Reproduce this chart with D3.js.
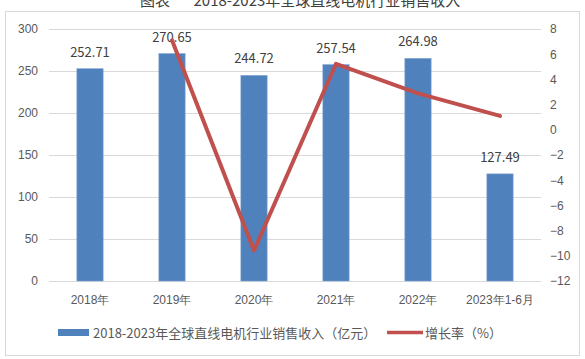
<!DOCTYPE html>
<html>
<head>
<meta charset="utf-8">
<script src="https://cdn.jsdelivr.net/npm/d3@7"></script>
<style>
  body { margin: 0; background: #fff; }
  svg { display: block; font-family: "Noto Sans CJK SC", "Noto Sans", sans-serif; }
</style>
</head>
<body>
<svg id="chart" width="585" height="359"></svg>
<script>
const categories = ["2018年", "2019年", "2020年", "2021年", "2022年", "2023年1-6月"]
const revenue = [252.71, 270.65, 244.72, 257.54, 264.98, 127.49]
// growth rate (%), no value for the first year
const growth = [null, 7.1, -9.58, 5.24, 2.89, 1.1]
const leftTicks = [0, 50, 100, 150, 200, 250, 300]
const rightTicks = [-12, -10, -8, -6, -4, -2, 0, 2, 4, 6, 8]
const title = "图表       2018-2023年全球直线电机行业销售收入"
const barName = "2018-2023年全球直线电机行业销售收入（亿元）"
const lineName = "增长率（%）"

const barColor = "#4F81BD"
const lineColor = "#C0504D"
const textColor = "#595959"

const svg = d3.select("#chart")
const plot = {left: 49, right: 541, top: 29, bottom: 281}

// frame
svg.append("rect")
  .attr("x", 5.5).attr("y", 11.5)
  .attr("width", 574).attr("height", 344)
  .attr("fill", "none").attr("stroke", "#D9D9D9")

// title, partly cut off at the top like in the source image
svg.append("text")
  .attr("x", 140).attr("y", 6)
  .attr("font-size", 15).attr("fill", "#404040")
  .style("white-space", "pre")
  .text(title)

const x = d3.scaleBand()
  .domain(categories)
  .range([plot.left, plot.right])
  .paddingInner(0.68)
  .paddingOuter(0.34)

const y = d3.scaleLinear().domain([0, 300]).range([plot.bottom, plot.top])
const y2 = d3.scaleLinear().domain([-12, 8]).range([plot.bottom, plot.top])

// gridlines
svg.append("g")
  .selectAll("line")
  .data(leftTicks)
  .join("line")
  .attr("x1", plot.left).attr("x2", plot.right)
  .attr("y1", d => Math.round(y(d)) + 0.5).attr("y2", d => Math.round(y(d)) + 0.5)
  .attr("stroke", "#D9D9D9")

// left axis
const leftAxis = svg.append("g")
  .attr("transform", `translate(${plot.left - 11},0)`)
  .call(d3.axisLeft(y).tickValues(leftTicks).tickSize(0).tickPadding(0))
leftAxis.select(".domain").remove()
leftAxis.selectAll("text").attr("font-size", 12).attr("fill", textColor).attr("font-family", null)

// right axis
const rightAxis = svg.append("g")
  .attr("transform", `translate(${plot.right + 9},0)`)
  .call(d3.axisRight(y2).tickValues(rightTicks).tickSize(0).tickPadding(0))
rightAxis.select(".domain").remove()
rightAxis.selectAll("text").attr("font-size", 12).attr("fill", textColor).attr("font-family", null)

// bottom axis labels
const bottomAxis = svg.append("g")
  .attr("transform", `translate(0,${plot.bottom})`)
  .call(d3.axisBottom(x).tickSize(0).tickPadding(14))
bottomAxis.select(".domain").remove()
bottomAxis.selectAll("text").attr("font-size", 12).attr("fill", textColor).attr("font-family", null)

// bars
svg.append("g")
  .selectAll("rect")
  .data(revenue)
  .join("rect")
  .attr("x", (d, i) => x(categories[i]))
  .attr("y", d => y(d))
  .attr("width", x.bandwidth())
  .attr("height", d => plot.bottom - y(d))
  .attr("fill", barColor)
  .attr("stroke", "#7EA1D0")
  .attr("stroke-width", 0.6)

// bar labels
svg.append("g")
  .selectAll("text")
  .data(revenue)
  .join("text")
  .attr("x", (d, i) => x(categories[i]) + x.bandwidth() / 2)
  .attr("y", d => y(d) - 12)
  .attr("text-anchor", "middle")
  .attr("font-size", 13)
  .attr("fill", "#404040")
  .text(d => d.toFixed(2))

// growth line
const line = d3.line()
  .defined(d => d != null)
  .x((d, i) => x(categories[i]) + x.bandwidth() / 2)
  .y(d => y2(d))

svg.append("path")
  .datum(growth)
  .attr("d", line)
  .attr("fill", "none")
  .attr("stroke", lineColor)
  .attr("stroke-width", 4)
  .attr("stroke-linejoin", "round")
  .attr("stroke-linecap", "round")

// legend
const legend = svg.append("g").attr("font-size", 13).attr("fill", textColor)
legend.append("rect")
  .attr("x", 58).attr("y", 329).attr("width", 31).attr("height", 7)
  .attr("fill", barColor)
legend.append("text").attr("x", 93).attr("y", 337.5).attr("fill", textColor).text(barName)
legend.append("line")
  .attr("x1", 387).attr("x2", 423).attr("y1", 332.5).attr("y2", 332.5)
  .attr("stroke", lineColor).attr("stroke-width", 3.5)
legend.append("text").attr("x", 425).attr("y", 337.5).attr("fill", textColor).text(lineName)
</script>
</body>
</html>
